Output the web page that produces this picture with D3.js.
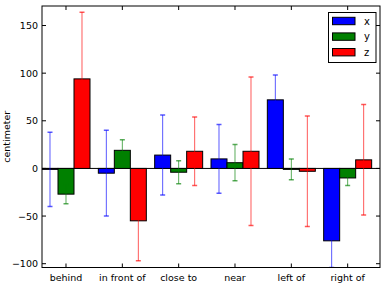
<!DOCTYPE html>
<html><head><meta charset="utf-8">
<script src="https://cdn.jsdelivr.net/npm/d3@7"></script>
<style>body{margin:0;background:#fff}svg{display:block}text{font-family:"DejaVu Sans",sans-serif}</style>
</head><body><svg id="c" width="389" height="288"></svg>
<script>
const categories = ["behind", "in front of", "close to", "near", "left of", "right of"];
const seriesNames = ["x", "y", "z"];
const seriesColors = ["#0000ff", "#008000", "#ff0000"];
const xValues = [-1, -5, 14, 10, 72, -76];
const yValues = [-27, 19, -4, 6, -1, -10];
const zValues = [94, -55, 18, 18, -3, 9];
const xErrors = [39, 45, 42, 36, 26, 28];
const yErrors = [10, 11, 12, 19, 11, 8];
const zErrors = [70, 42, 36, 78, 58, 58];
const yTicks = [-100, -50, 0, 50, 100, 150];

const values = [xValues, yValues, zValues];
const errors = [xErrors, yErrors, zErrors];
const barW = 0.284;

const svg = d3.select("#c");
const L = 42, R = 380, T = 6, B = 267.5;
const x = d3.scaleLinear().domain([0, 6]).range([L, R]);
const y = d3.scaleLinear().domain([-104, 170.5]).range([B, T]);

const clip = svg.append("defs").append("clipPath").attr("id", "pc")
  .append("rect").attr("x", L).attr("y", T).attr("width", R - L).attr("height", B - T);
const plot = svg.append("g").attr("clip-path", "url(#pc)");

// zero line
plot.append("line").attr("x1", L).attr("x2", R).attr("y1", y(0)).attr("y2", y(0))
  .attr("stroke", "#000").attr("stroke-width", 1);

values.forEach((vals, s) => {
  const g = plot.append("g");
  g.selectAll("rect").data(vals).join("rect")
    .attr("x", (d, i) => x(i + s * barW))
    .attr("width", x(barW) - x(0))
    .attr("y", d => y(Math.max(0, d)))
    .attr("height", d => Math.abs(y(d) - y(0)))
    .attr("fill", seriesColors[s]).attr("stroke", "#000").attr("stroke-width", 1);
  const eg = plot.append("g").attr("stroke", seriesColors[s]).attr("stroke-opacity", 0.65);
  vals.forEach((d, i) => {
    const cx = x(i + s * barW + barW / 2);
    const e = errors[s][i];
    eg.append("line").attr("x1", cx).attr("x2", cx).attr("y1", y(d - e)).attr("y2", y(d + e)).attr("stroke-width", 1);
    [d - e, d + e].forEach(v => eg.append("line").attr("x1", cx - 2.5).attr("x2", cx + 2.5)
      .attr("y1", y(v)).attr("y2", y(v)).attr("stroke-width", 1.5));
  });
});

// frame
svg.append("rect").attr("x", L).attr("y", T).attr("width", R - L).attr("height", B - T)
  .attr("fill", "none").attr("stroke", "#000").attr("stroke-width", 1);

// ticks inward
const tickPos = categories.map((c, i) => x(i + 1.5 * barW));
const tg = svg.append("g").attr("stroke", "#000").attr("stroke-width", 1);
tickPos.forEach(px => {
  tg.append("line").attr("x1", px).attr("x2", px).attr("y1", B).attr("y2", B - 4);
  tg.append("line").attr("x1", px).attr("x2", px).attr("y1", T).attr("y2", T + 4);
});
yTicks.forEach(v => {
  tg.append("line").attr("x1", L).attr("x2", L + 4).attr("y1", y(v)).attr("y2", y(v));
  tg.append("line").attr("x1", R).attr("x2", R - 4).attr("y1", y(v)).attr("y2", y(v));
});

// tick labels
svg.append("g").selectAll("text").data(categories).join("text")
  .attr("x", (d, i) => tickPos[i]).attr("y", 281)
  .attr("text-anchor", "middle").attr("font-size", 9.5).attr("fill", "#000").text(d => d);
svg.append("g").selectAll("text").data(yTicks).join("text")
  .attr("x", L - 4).attr("y", d => y(d) + 3.5)
  .attr("text-anchor", "end").attr("font-size", 9.5).attr("fill", "#000")
  .text(d => d < 0 ? "\u2212" + Math.abs(d) : d);

// y label
svg.append("text").attr("transform", `translate(9.5,${(T + B) / 2}) rotate(-90)`)
  .attr("text-anchor", "middle").attr("font-size", 9.5).text("centimeter");

// legend
const lg = svg.append("g");
lg.append("rect").attr("x", 328.5).attr("y", 12.5).attr("width", 47.5).attr("height", 50)
  .attr("fill", "#fff").attr("stroke", "#000").attr("stroke-width", 1);
seriesNames.forEach((n, i) => {
  const cy = 21 + i * 15.6;
  lg.append("rect").attr("x", 332.5).attr("y", cy - 3.7).attr("width", 22.5).attr("height", 7.4)
    .attr("fill", seriesColors[i]).attr("stroke", "#000").attr("stroke-width", 1);
  lg.append("text").attr("x", 364).attr("y", cy + 3.5).attr("font-size", 10).text(n);
});
</script></body></html>
